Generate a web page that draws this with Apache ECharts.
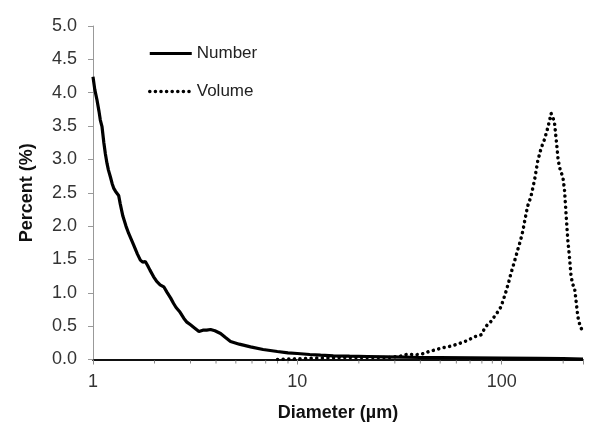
<!DOCTYPE html>
<html><head><meta charset="utf-8">
<script src="https://cdn.jsdelivr.net/npm/echarts@6/dist/echarts.min.js"></script>
<style>html,body{margin:0;padding:0;background:#fff}#c{width:600px;height:429px}</style>
</head><body><div id="c"></div>
<script>
const numberDiam = [1.00,1.02,1.046,1.07,1.086,1.107,1.13,1.15,1.171,1.19,1.216,1.24,1.262,1.29,1.31,1.335,1.36,1.40,1.45,1.495,1.55,1.58,1.65,1.705,1.75,1.803,1.85,1.90,1.98,2.05,2.13,2.22,2.30,2.40,2.48,2.55,2.65,2.78,2.88,3.0,3.15,3.3,3.45,3.6,3.76,3.95,4.21,4.45,4.71,5.2,5.9,6.8,7.98,9.0,10,11.5,13,15,18,22,27,33,40,50,70,100,150,200,250];
const numberPct  = [4.24,4.05,3.89,3.72,3.59,3.49,3.25,3.08,2.94,2.84,2.74,2.64,2.57,2.52,2.51,2.46,2.33,2.15,2.00,1.89,1.78,1.72,1.58,1.49,1.46,1.47,1.41,1.34,1.24,1.17,1.12,1.09,1.01,0.92,0.84,0.78,0.72,0.62,0.56,0.52,0.47,0.42,0.44,0.44,0.45,0.43,0.39,0.33,0.27,0.23,0.19,0.15,0.12,0.10,0.09,0.075,0.065,0.055,0.05,0.045,0.04,0.035,0.03,0.028,0.025,0.022,0.018,0.012,0.005];
const volumeDiam = [8,12,17,22,28,32,34.6,38,41.8,44,46.8,50.4,54.4,58,62,65.6,68,73,76,79.3,82,85,88.6,91.9,95,99.2,102,105,108,111,115,120,124,127,130,134,139,145,150,156,162,168,172,174.5,178,181,185,189,194,199,203,207,210.7,214.6,218.7,223,227,231,236,242,249.5];
const volumePct  = [0.0,0.02,0.03,0.03,0.03,0.05,0.08,0.07,0.09,0.12,0.14,0.17,0.19,0.21,0.24,0.27,0.28,0.34,0.35,0.37,0.45,0.52,0.57,0.64,0.70,0.79,0.90,1.02,1.15,1.29,1.45,1.65,1.80,1.93,2.10,2.30,2.44,2.70,2.97,3.17,3.30,3.47,3.60,3.69,3.69,3.57,3.29,2.99,2.82,2.75,2.54,2.14,1.79,1.54,1.24,1.12,1.09,0.89,0.64,0.50,0.42];
const minorTicks = [2,3,4,5,6,7,8,9,20,30,40,50,60,70,80,90,200];
const xMajorLabels = [1,10,100];
const seriesNames = ['Number','Volume'];

const numberLine = {color:'#000',width:3.2};
const volumeLine = {color:'#000',width:3.5,type:[0.1,5.5],cap:'round'};

const chart = echarts.init(document.getElementById('c'));
const font = 'Arial, "Liberation Sans", sans-serif';
chart.setOption({
  animation:false,
  grid:{left:93,right:17,top:26,bottom:69.5},
  legend:{
    orient:'vertical', left:143, top:40, itemWidth:42, itemHeight:16, itemGap:21,
    itemStyle:{opacity:0},
    textStyle:{fontFamily:font,fontSize:17,color:'#222'},
    data:[
      {name:seriesNames[0],lineStyle:{width:3.2}},
      {name:seriesNames[1],lineStyle:{width:3.5}}
    ]
  },
  xAxis:{
    type:'log', logBase:10, min:1, max:250,
    name:'Diameter (µm)', nameLocation:'middle', nameGap:45,
    nameTextStyle:{fontFamily:font,fontSize:18,fontWeight:'bold',color:'#111'},
    axisLine:{lineStyle:{color:'#111',width:2}},
    axisTick:{show:true,length:5,lineStyle:{color:'#888'}},
    axisLabel:{margin:14,fontFamily:font,fontSize:18,color:'#333',
      formatter:v=>{const l=Math.log10(v);return Math.abs(l-Math.round(l))<1e-6 && xMajorLabels.includes(Math.round(v))?String(Math.round(v)):'';}},
    splitLine:{show:false}
  },
  yAxis:{
    type:'value', min:0, max:5, interval:0.5,
    name:'Percent (%)', nameLocation:'middle', nameGap:57,
    nameTextStyle:{fontFamily:font,fontSize:18,fontWeight:'bold',color:'#111'},
    axisLine:{show:true,lineStyle:{color:'#999'}},
    axisTick:{show:true,length:5,lineStyle:{color:'#999'}},
    axisLabel:{margin:16,fontFamily:font,fontSize:18,color:'#333',formatter:v=>v.toFixed(1)},
    splitLine:{show:false}
  },
  series:[
    {name:seriesNames[0],type:'line',showSymbol:false,symbol:'none',
     data:numberDiam.map((d,i)=>[d,numberPct[i]]),
     lineStyle:numberLine,itemStyle:{color:'#000'},z:3},
    {name:seriesNames[1],type:'line',showSymbol:false,symbol:'none',
     data:volumeDiam.map((d,i)=>[d,volumePct[i]]),
     lineStyle:volumeLine,itemStyle:{color:'#000'},z:3},
    {type:'custom',silent:true,clip:false,legendHoverLink:false,
     data:minorTicks.map(v=>[v,0]),
     renderItem:(params,api)=>{
       const p=api.coord([api.value(0),0]);
       return {type:'line',shape:{x1:p[0],y1:p[1]+1,x2:p[0],y2:p[1]+4},style:{stroke:'#888',lineWidth:1}};
     },z:1}
  ]
});
</script></body></html>
